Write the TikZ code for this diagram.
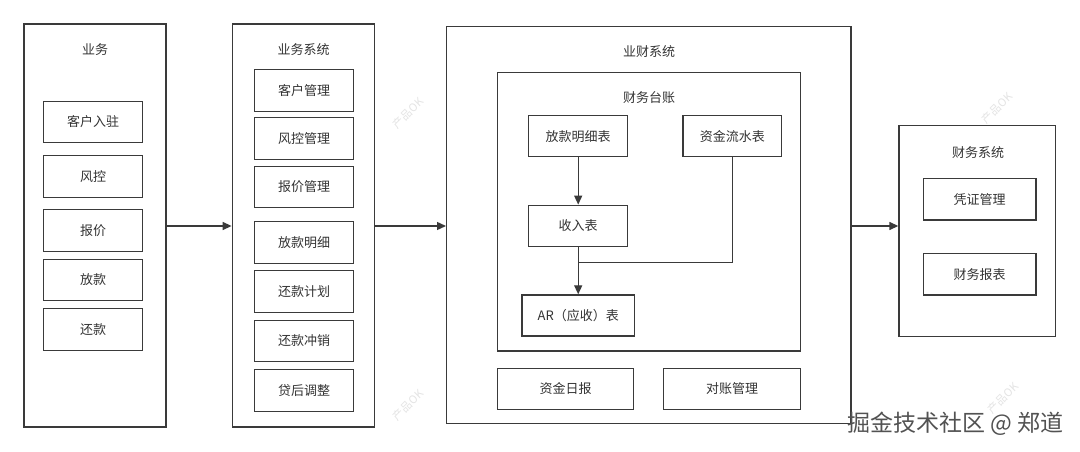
\documentclass[tikz,border=0pt]{standalone}
\usepackage{fontspec}
\setmainfont{Noto Sans CJK SC}
\usetikzlibrary{arrows.meta,calc}
\definecolor{lc}{HTML}{3A3A3A}
\definecolor{tc}{HTML}{333333}
\definecolor{wm}{HTML}{E4E4E4}
\begin{document}
\begin{tikzpicture}[x=1bp,y=-1bp,
  box/.style={draw=lc,line width=1.4bp,fill=white,inner sep=0pt,font=\fontsize{13bp}{15bp}\selectfont,text=tc},
  ttl/.style={font=\fontsize{13bp}{15bp}\selectfont,text=tc,inner sep=0pt},
  arr/.style={draw=lc,line width=1.4bp,-{Triangle[length=9bp,width=8bp]}},
  ln/.style={draw=lc,line width=1.4bp},
  wmk/.style={font=\fontsize{11bp}{13bp}\selectfont,text=wm,rotate=45,inner sep=0pt}]
\useasboundingbox (0,0) rectangle (1080,452);
\fill[white] (0,0) rectangle (1080,452);

% column 1
\node[box,minimum width=142bp,minimum height=403bp] (b1) at (95,225.5) {};
\node[ttl] (b1t) at (95,50) {业务};
\node[box,minimum width=99bp,minimum height=41.5bp] (a1) at (93.2,122) {客户入驻};
\node[box,minimum width=99bp,minimum height=41.5bp] (a2) at (93.2,176.5) {风控};
\node[box,minimum width=99bp,minimum height=41.5bp] (a3) at (93.2,230.5) {报价};
\node[box,minimum width=99bp,minimum height=41.5bp] (a4) at (93.2,280) {放款};
\node[box,minimum width=99bp,minimum height=41.5bp] (a5) at (93.2,329.5) {还款};

% column 2
\node[box,minimum width=142.4bp,minimum height=403bp] (b2) at (303.5,225.5) {};
\node[ttl] (b2t) at (303.5,50) {业务系统};
\node[box,minimum width=98.6bp,minimum height=41.5bp] (s1) at (304,90.5) {客户管理};
\node[box,minimum width=98.6bp,minimum height=41.5bp] (s2) at (304,138.5) {风控管理};
\node[box,minimum width=98.6bp,minimum height=41.5bp] (s3) at (304,187) {报价管理};
\node[box,minimum width=98.6bp,minimum height=41.5bp] (s4) at (304,242.5) {放款明细};
\node[box,minimum width=98.6bp,minimum height=41.5bp] (s5) at (304,291.5) {还款计划};
\node[box,minimum width=98.6bp,minimum height=41.5bp] (s6) at (304,341) {还款冲销};
\node[box,minimum width=98.6bp,minimum height=41.5bp] (s7) at (304,390.5) {贷后调整};

% column 3
\node[box,minimum width=404.3bp,minimum height=396.8bp] (b3) at (648.85,225.1) {};
\node[ttl] (b3t) at (649,52) {业财系统};
\node[box,minimum width=303bp,minimum height=278.7bp] (l) at (648.8,211.65) {};
\node[ttl] (lt) at (649,97.3) {财务台账};
\node[box,minimum width=99bp,minimum height=41bp] (t1) at (578.2,136.2) {放款明细表};
\node[box,minimum width=98.7bp,minimum height=41bp] (t2) at (732.35,136.2) {资金流水表};
\node[box,minimum width=99bp,minimum height=41bp] (t3) at (578.2,225.8) {收入表};
\node[box,minimum width=112.4bp,minimum height=41bp] (t5) at (578.2,315.5) {AR（应收）表};
\node[box,minimum width=136.4bp,minimum height=41bp] (d1) at (565.5,388.8) {资金日报};
\node[box,minimum width=136.6bp,minimum height=41bp] (d2) at (732,388.8) {对账管理};
\coordinate (j) at (578.2,262.3);
\draw[arr] (t1.south) -- (t3.north);
\draw[arr] (t3.south) -- (t5.north);
\draw[ln] (t2.south) |- (j);

% column 4
\node[box,minimum width=156.7bp,minimum height=211bp] (b4) at (977.35,231.2) {};
\node[ttl] (b4t) at (978,152.3) {财务系统};
\node[box,minimum width=112.7bp,minimum height=41.3bp] (f1) at (979.65,199.35) {凭证管理};
\node[box,minimum width=112.7bp,minimum height=41.3bp] (f2) at (979.65,274.35) {财务报表};

% main arrows
\draw[arr] (b1.east |- 0,226) -- (b2.west |- 0,226);
\draw[arr] (b2.east |- 0,226) -- (b3.west |- 0,226);
\draw[arr] (b3.east |- 0,226) -- (b4.west |- 0,226);

% watermarks
\node[wmk] (w1) at (408,113) {产品OK};
\node[wmk] (w2) at (408,405) {产品OK};
\node[wmk] (w3) at (997,108) {产品OK};
\node[wmk] (w4) at (1003,398) {产品OK};
\node[font=\fontsize{23bp}{26bp}\selectfont,text=tc!85,inner sep=0pt,anchor=east] (sig) at (1064,424) {掘金技术社区 @ 郑道};
\end{tikzpicture}
\end{document}
